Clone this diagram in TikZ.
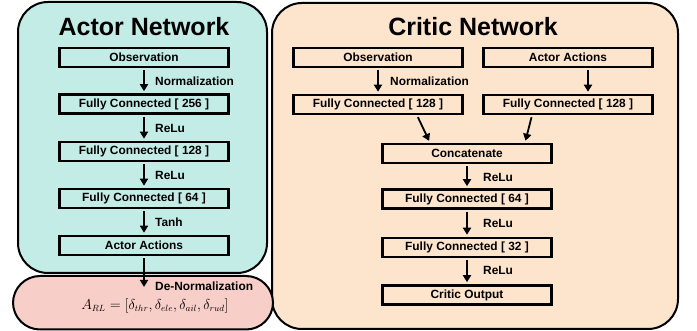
\documentclass[tikz,border=0pt]{standalone}
\usepackage{fontspec}
\setmainfont{Liberation Sans}
\usetikzlibrary{arrows.meta}
\definecolor{actorbg}{RGB}{196,236,231}
\definecolor{criticbg}{RGB}{252,228,205}
\definecolor{outbg}{RGB}{248,206,201}
\begin{document}
\begin{tikzpicture}[x=1pt,y=-1pt,
  panel/.style={draw=black,line width=2pt,rounded corners=30pt},
  layer/.style={draw=black,line width=2.6pt,minimum width=169pt,minimum height=19pt,
    inner sep=0pt,font=\bfseries\fontsize{11.9}{13}\selectfont},
  flow/.style={line width=1.8pt,-{Triangle[width=8pt,length=7pt]},shorten <=2pt,shorten >=2pt},
  lbl/.style={anchor=west,inner sep=0pt,font=\bfseries\fontsize{11.9}{13}\selectfont},
  heading/.style={font=\bfseries\fontsize{25}{28}\selectfont}]
\useasboundingbox (0,0) rectangle (697,331);

% panels
\draw[panel,fill=actorbg] (18,2) rectangle (267,273);
\draw[panel,fill=criticbg] (272,3) rectangle (678,329);
\draw[panel,fill=outbg,rounded corners=27pt] (13,276) rectangle (273,329.5);

% actor network
\node[heading] (atitle) at (144,27) {Actor Network};
\node[layer] (aobs) at (144,57.5) {Observation};
\node[layer] (a256) at (144,104) {Fully Connected [ 256 ]};
\node[layer] (a128) at (144,151.5) {Fully Connected [ 128 ]};
\node[layer] (a64)  at (144,198.5) {Fully Connected [ 64 ]};
\node[layer] (aact) at (144,245.5) {Actor Actions};
\coordinate (aend) at (144,289);

\draw[flow] (aobs) -- (a256);
\draw[flow] (a256) -- (a128);
\draw[flow] (a128) -- (a64);
\draw[flow] (a64) -- (aact);
\draw[flow] (aact) -- (aend);

\node[lbl] (lnorm) at (155,81) {Normalization};
\node[lbl] (lrelu1) at (155,128) {ReLu};
\node[lbl] (lrelu2) at (155,175) {ReLu};
\node[lbl] (ltanh) at (155,222) {Tanh};
\node[lbl] (ldenorm) at (155,286) {De-Normalization};
\node[inner sep=0pt,font=\fontsize{13.5}{15}\selectfont] (arl) at (155,306)
  {$A_{RL}=[\delta_{thr},\delta_{ele},\delta_{ail},\delta_{rud}]$};

% critic network
\node[heading] (ctitle) at (473,27) {Critic Network};
\node[layer] (cobs) at (378,57.5) {Observation};
\node[layer] (cact) at (568,57.5) {Actor Actions};
\node[layer] (cfcl) at (378,104.5) {Fully Connected [ 128 ]};
\node[layer] (cfcr) at (568,104.5) {Fully Connected [ 128 ]};
\node[layer] (ccat) at (467,153.5) {Concatenate};
\node[layer] (c64)  at (467,199) {Fully Connected [ 64 ]};
\node[layer] (c32)  at (467,247.5) {Fully Connected [ 32 ]};
\node[layer] (cout) at (467,295) {Critic Output};

\draw[flow] (cobs) -- (cfcl);
\draw[flow] ([xshift=20pt]cact.south) -- ([xshift=20pt]cfcr.north);
\draw[flow] ([xshift=39pt]cfcl.south) -- ([xshift=-37pt]ccat.north);
\draw[flow] ([xshift=-36pt]cfcr.south) -- ([xshift=58pt]ccat.north);
\draw[flow] (ccat) -- (c64);
\draw[flow] (c64) -- (c32);
\draw[flow] (c32) -- (cout);

\node[lbl] (cnorm) at (390,81) {Normalization};
\node[lbl] (crelu1) at (483,177) {ReLu};
\node[lbl] (crelu2) at (483,223) {ReLu};
\node[lbl] (crelu3) at (483,270) {ReLu};
\end{tikzpicture}
\end{document}
